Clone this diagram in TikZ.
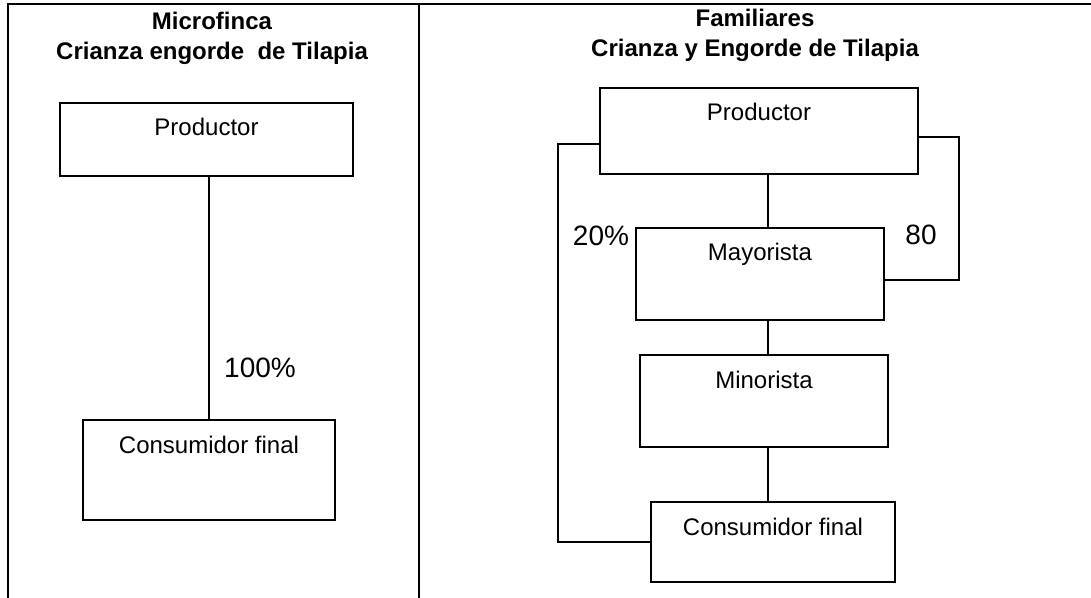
\documentclass[tikz,border=0pt]{standalone}
\usepackage{fontspec}
\setmainfont{Liberation Sans}
\begin{document}
\begin{tikzpicture}[x=0.5pt,y=-0.5pt,inner sep=0pt,outer sep=0pt,
etapa/.style={draw,rectangle,line width=1pt,inner sep=0pt,text height=16.5pt,font=\fontsize{12}{14}\selectfont},
titulo/.style={align=center,font=\fontsize{12}{15}\selectfont\bfseries},
cuota/.style={font=\fontsize{14}{16}\selectfont},
enlace/.style={line width=0.6pt}]
\useasboundingbox (0,0) rectangle (1091,598);
\draw[line width=0.8pt] (1091,4) -- (8,4) -- (8,598);
\draw[line width=0.7pt] (419,4) -- (419,598);
\draw (212,38) node[titulo] (tituloA) {Microfinca\\Crianza engorde~~de Tilapia};
\draw (755,35) node[titulo] (tituloB) {Familiares\\Crianza y Engorde de Tilapia};
\draw (206.5,139.5) node[etapa,minimum width=146.5pt,text depth=20pt] (prodA) {Productor};
\draw (209,470) node[etapa,minimum width=126pt,text depth=33.5pt] (consA) {Consumidor final};
\draw[enlace] (consA.north) -- (consA.north |- prodA.south);
\draw (260,368) node[cuota] (p100) {100\%};
\draw (759,131) node[etapa,minimum width=159pt,text depth=26.5pt] (prodB) {Productor};
\draw (760,274) node[etapa,minimum width=124pt,text depth=29.5pt] (mayB) {Mayorista};
\draw (764,401) node[etapa,minimum width=124pt,text depth=29.5pt] (minB) {Minorista};
\draw (773,542) node[etapa,minimum width=122pt,text depth=23.5pt] (consB) {Consumidor final};
\coordinate (eje) at (768,0);
\draw[enlace] (prodB.south -| eje) -- (mayB.north -| eje);
\draw[enlace] (mayB.south -| eje) -- (minB.north -| eje);
\draw[enlace] (minB.south -| eje) -- (consB.north -| eje);
\draw[enlace] (prodB.west) ++(0,13) -- ++(-42,0) |- (consB.west);
\draw[enlace] (prodB.east) ++(0,6) -- ++(41,0) |- ([yshift=-3pt]mayB.east);
\draw (601,236) node[cuota] (p20) {20\%};
\draw (921,235) node[cuota] (p80) {80};
\end{tikzpicture}
\end{document}
